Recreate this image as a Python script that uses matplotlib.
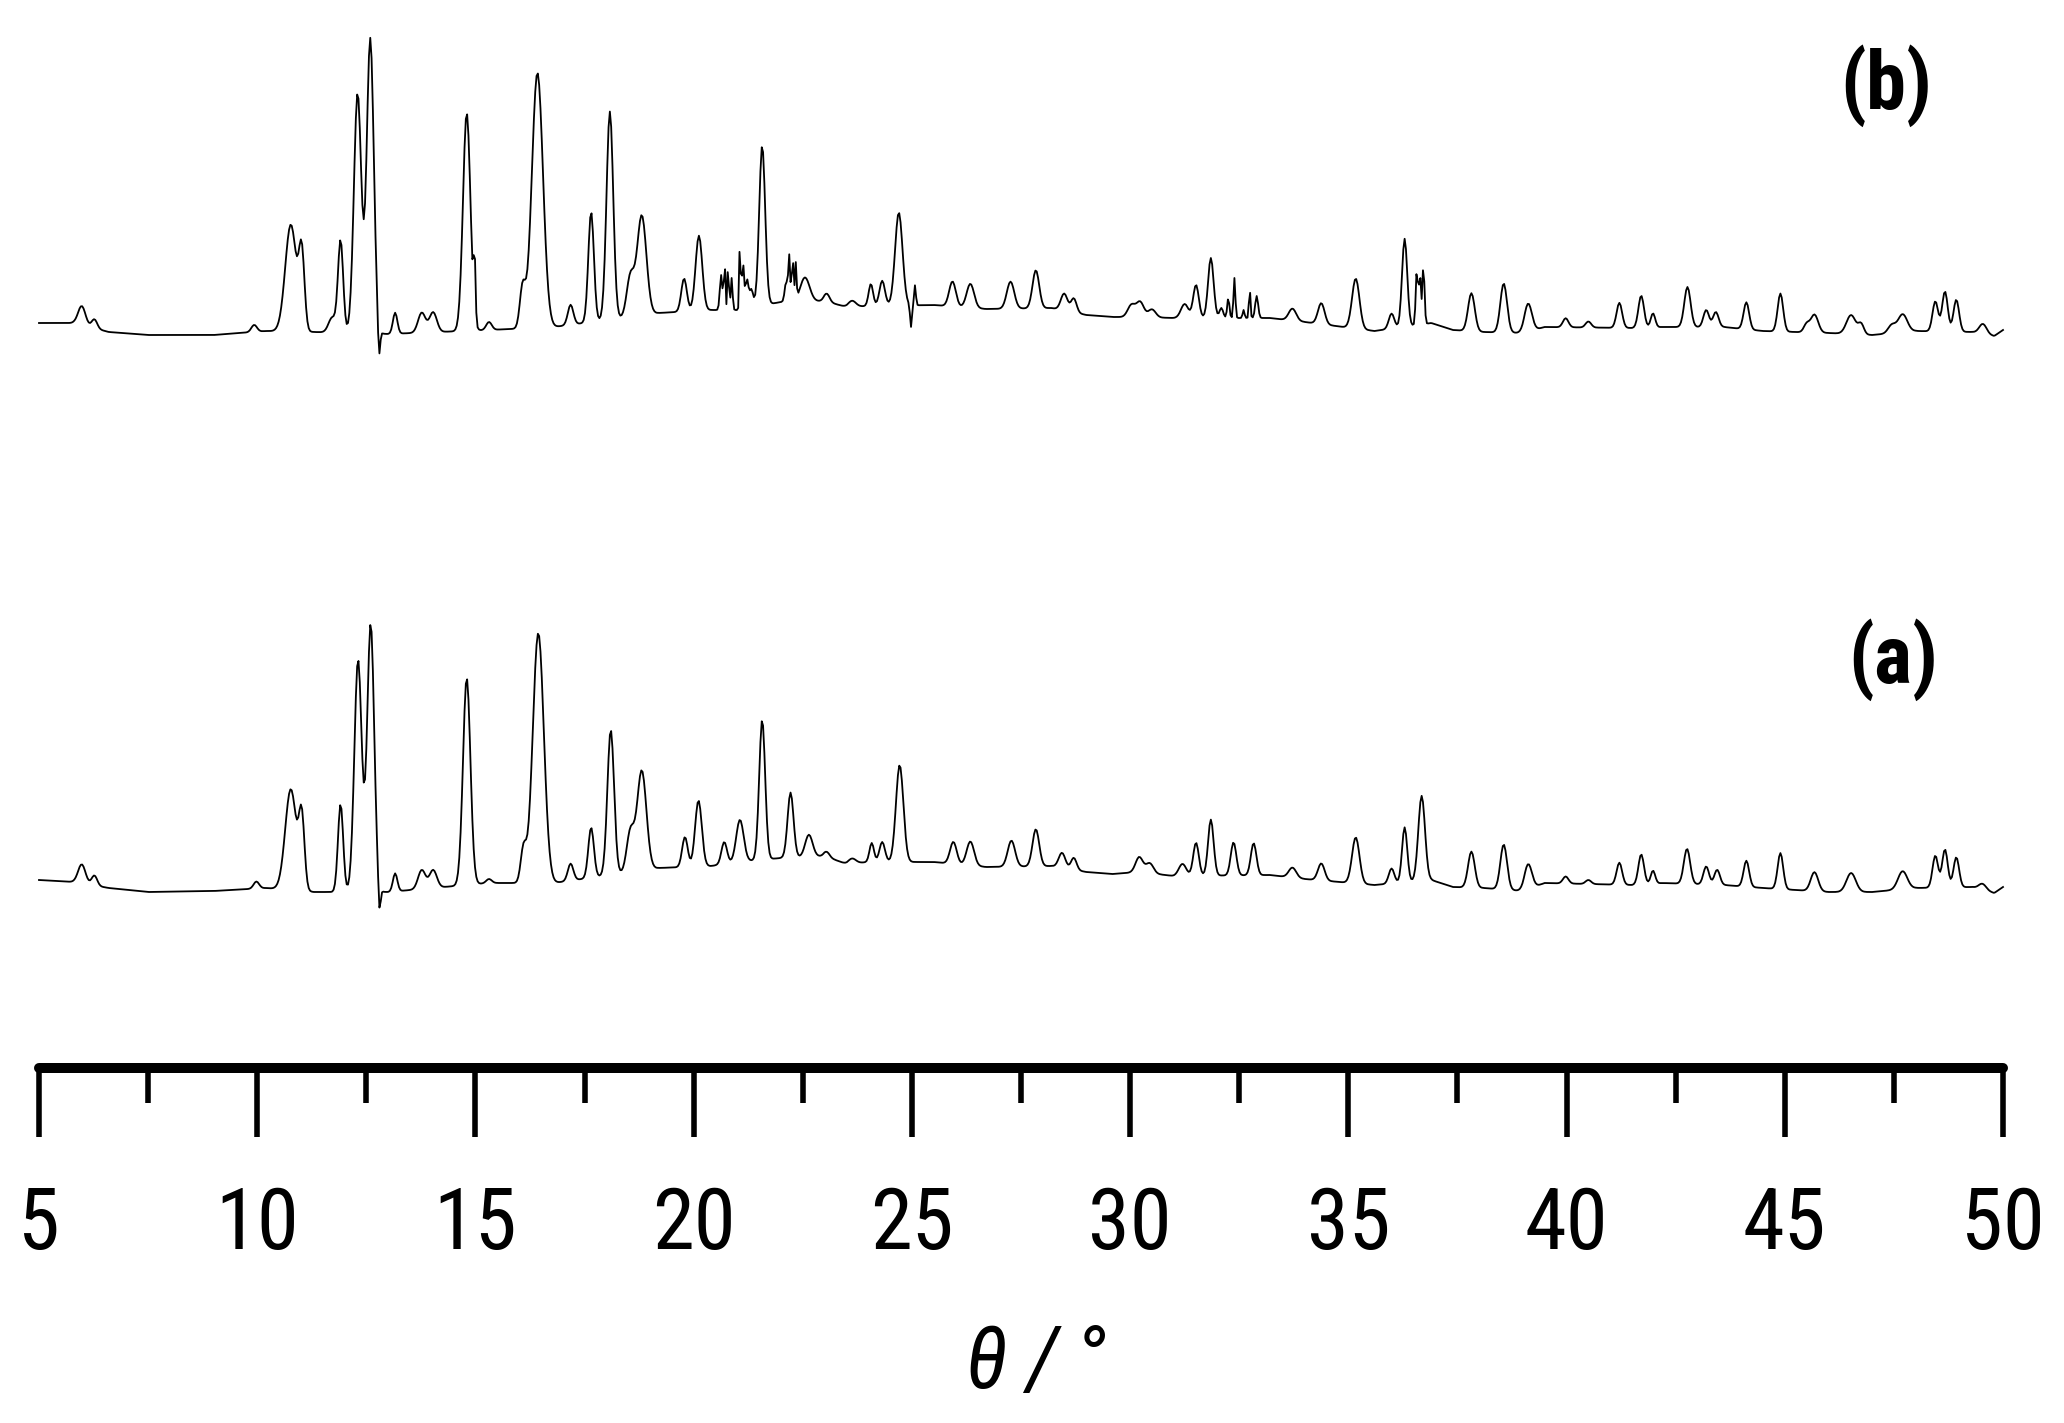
import numpy as np
import matplotlib
matplotlib.use("Agg")
import matplotlib.pyplot as plt
from matplotlib import font_manager
from matplotlib.ticker import MultipleLocator

# ---------------- data ----------------
theta_min, theta_max = 5.0, 50.0
major_ticks = [5, 10, 15, 20, 25, 30, 35, 40, 45, 50]
tick_labels = ["5", "10", "15", "20", "25", "30", "35", "40", "45", "50"]

# background (amorphous hump) levels, arbitrary intensity units
bg_theta = [5, 5.8, 6.6, 7.5, 9, 10.2, 11.3, 13, 15.3, 16.8,
            19.2, 20.4, 21, 22, 23, 23.5, 24, 25.5, 26.7, 28.2,
            29, 29.6, 30.2, 31, 33.2, 34, 35.6, 36.9, 37.4, 38.1,
            39, 39.5, 41.5, 42.2, 43.6, 44.5, 46, 47, 48, 49.3,
            49.8, 50]
bg_b = [22, 22, 13, 10, 10, 14, 13, 11, 15, 18,
        32, 35, 35, 43, 44, 38, 39, 40, 36, 37,
        30, 28, 28, 27, 27, 23, 14, 22, 15, 13,
        12, 18, 17, 18, 18, 14, 12, 10, 14, 13,
        9, 15]
bg_a = [18, 16, 10, 6, 7, 10, 6, 6, 15, 15,
        30, 32, 36, 40, 42, 34, 36, 36, 31, 32,
        26, 24, 26, 22, 23, 19, 13, 18, 11, 10,
        7, 15, 13, 15, 13, 10, 6, 6, 10, 11,
        5, 11]

# pattern (b): reflection positions, heights, widths (FWHM, degrees)
b_pos = [5.98, 6.27, 9.93, 10.77, 11.02,
         11.72, 11.91, 12.30, 12.59, 12.79,
         13.16, 13.77, 14.03, 14.80, 14.98,
         15.31, 16.08, 16.42, 17.18, 17.65,
         18.08, 18.55, 18.81, 19.78, 20.12,
         20.63, 20.71, 20.79, 20.87, 21.06,
         21.13, 21.22, 21.32, 21.57, 22.12,
         22.19, 22.27, 22.34, 22.55, 23.05,
         23.63, 24.06, 24.32, 24.70, 24.98,
         25.07, 25.93, 26.34, 27.26, 27.84,
         28.49, 28.71, 30.03, 30.23, 30.50,
         31.25, 31.51, 31.85, 32.09, 32.25,
         32.39, 32.60, 32.74, 32.90, 33.72,
         34.38, 35.17, 35.99, 36.29, 36.57,
         36.64, 36.72, 37.82, 38.56, 39.12,
         39.98, 40.50, 41.21, 41.71, 41.98,
         42.77, 43.20, 43.42, 44.12, 44.90,
         45.50, 45.68, 46.52, 46.75, 47.45,
         47.70, 48.45, 48.67, 48.93, 49.54]
b_height = [19, 9, 7, 107, 75,
            15, 92, 240, 295, -32,
            21, 20, 20, 218, 60,
            8, 40, 255, 20, 110,
            208, 40, 100, 33, 75,
            35, 48, 45, 32, 72,
            45, 28, 18, 160, 20,
            45, 42, 36, 24, 8,
            6, 22, 25, 93, -22,
            20, 25, 24, 27, 38,
            17, 14, 12, 15, 8,
            14, 33, 60, 10, 20,
            40, 8, 30, 22, 12,
            21, 50, 15, 88, 55,
            50, 58, 38, 49, 28,
            9, 6, 25, 32, 14,
            40, 17, 15, 27, 38,
            8, 18, 19, 10, 8,
            18, 30, 40, 32, 10]
b_fwhm = [.2, .15, .15, .3, .15,
          .2, .14, .2, .19, .06,
          .12, .2, .2, .2, .05,
          .15, .15, .3, .15, .15,
          .18, .2, .25, .15, .18,
          .07, .04, .04, .05, .035,
          .06, .08, .1, .16, .08,
          .05, .05, .04, .25, .15,
          .2, .12, .15, .2, .05,
          .05, .18, .2, .2, .18,
          .18, .15, .2, .2, .2,
          .2, .15, .15, .1, .06,
          .05, .05, .04, .08, .2,
          .18, .2, .15, .14, .06,
          .05, .06, .18, .18, .2,
          .15, .15, .15, .15, .12,
          .17, .15, .15, .15, .15,
          .15, .2, .25, .15, .2,
          .25, .15, .15, .15, .2]

# pattern (a)
a_pos = [5.98, 6.27, 9.98, 10.77, 11.02,
         11.91, 12.31, 12.60, 12.80, 13.16,
         13.77, 14.03, 14.80, 15.31, 16.10,
         16.44, 17.18, 17.65, 18.10, 18.55,
         18.81, 19.80, 20.11, 20.70, 21.06,
         21.57, 22.22, 22.64, 23.05, 23.63,
         24.08, 24.32, 24.72, 25.95, 26.34,
         27.28, 27.84, 28.44, 28.71, 30.21,
         30.45, 31.20, 31.51, 31.85, 32.37,
         32.83, 33.72, 34.38, 35.17, 35.99,
         36.29, 36.68, 37.82, 38.56, 39.12,
         39.98, 40.50, 41.21, 41.71, 41.98,
         42.76, 43.20, 43.45, 44.12, 44.90,
         45.68, 46.52, 47.70, 48.45, 48.67,
         48.93, 49.53]
a_height = [19, 10, 7, 101, 70,
            88, 232, 268, -28, 18,
            19, 18, 207, 4, 33,
            250, 17, 50, 145, 40,
            100, 30, 66, 22, 42,
            140, 65, 22, 5, 5,
            19, 20, 97, 22, 24,
            26, 37, 15, 12, 15,
            10, 12, 33, 56, 33,
            32, 10, 17, 46, 15,
            55, 85, 36, 45, 25,
            7, 4, 22, 30, 13,
            35, 18, 15, 26, 36,
            19, 19, 18, 32, 38,
            30, 6]
a_fwhm = [.2, .15, .15, .3, .15,
          .14, .2, .19, .06, .12,
          .2, .2, .2, .15, .15,
          .3, .15, .15, .18, .2,
          .25, .15, .18, .15, .2,
          .16, .16, .2, .15, .2,
          .12, .15, .2, .18, .2,
          .2, .18, .18, .15, .2,
          .2, .2, .15, .15, .15,
          .15, .2, .18, .2, .15,
          .14, .18, .18, .18, .2,
          .15, .15, .15, .15, .12,
          .17, .15, .15, .15, .15,
          .2, .25, .25, .15, .15,
          .15, .2]

# vertical stacking offsets of the two patterns
offset_a = 170
offset_b = 723

# ---------------- build the patterns ----------------
theta = np.arange(theta_min, theta_max + 1e-9, 0.03)


def pattern(bg, pos, hgt, fw):
    y = np.interp(theta, bg_theta, bg).astype(float)
    for c, h, w in zip(pos, hgt, fw):
        y += h * np.exp(-4 * np.log(2) * ((theta - c) / w) ** 2)
    return y


ya = pattern(bg_a, a_pos, a_height, a_fwhm)
yb = pattern(bg_b, b_pos, b_height, b_fwhm)

# ---------------- fonts: prefer a narrow sans (Arial Narrow look) ----------------
entries = font_manager.fontManager.ttflist
names = {f.name for f in entries}
font_family = None
font_stretch = "normal"
for cand in ["Liberation Sans Narrow", "Arial Narrow", "Roboto Condensed",
             "Open Sans Condensed", "Noto Sans Condensed", "DejaVu Sans Condensed",
             "Noto Sans Display Condensed"]:
    if cand in names:
        font_family = cand
        break
if font_family is None:
    for f in entries:
        if ("Narrow" in f.name or "Condensed" in f.name) and "Mono" not in f.name:
            font_family = f.name
            break
if font_family is None:
    for pref in ["Liberation Sans", "Roboto", "Noto Sans", "Open Sans", "DejaVu Sans"]:
        if any(f.name == pref and str(f.stretch) in ("condensed", "semi-condensed", "75", "87.5")
               for f in entries):
            font_family = pref
            font_stretch = "condensed"
            break
if font_family is None:
    font_family = "Liberation Sans"
fam = [font_family, "Liberation Sans", "DejaVu Sans"]

# ---------------- figure ----------------
W, H = 2064, 1423
fig = plt.figure(figsize=(W / 100, H / 100), dpi=100)
fig.patch.set_facecolor("white")

ax_left, ax_right = 39, 2003
spine_y = 1068
ax = fig.add_axes([ax_left / W, 1 - spine_y / H, (ax_right - ax_left) / W, spine_y / H])
ax.set_xlim(theta_min, theta_max)
ax.set_ylim(0, spine_y)

ax.plot(theta, offset_b + yb, color="black", lw=1.3, clip_on=False)
ax.plot(theta, offset_a + ya, color="black", lw=1.3, clip_on=False)

for s in ["top", "left", "right"]:
    ax.spines[s].set_visible(False)
ax.spines["bottom"].set_linewidth(7.2)
ax.spines["bottom"].set_capstyle("round")
ax.set_yticks([])
ax.set_xticks(major_ticks)
ax.set_xticklabels(tick_labels, family=fam, fontsize=61, stretch=font_stretch)
ax.xaxis.set_minor_locator(MultipleLocator(2.5))
ax.tick_params(axis="x", which="major", direction="out", length=50, width=4, pad=34, color="black")
ax.tick_params(axis="x", which="minor", direction="out", length=25, width=4, color="black")
ax.patch.set_alpha(0)

fig.text(1886 / W, 1 - 86 / H, "(b)", family=fam, fontsize=58, fontweight="bold",
         stretch=font_stretch, ha="center", va="center")
fig.text(1893 / W, 1 - 660 / H, "(a)", family=fam, fontsize=58, fontweight="bold",
         stretch=font_stretch, ha="center", va="center")
fig.text(1036 / W, 1 - 1388 / H, "θ /\u2009°", family=fam, fontsize=62, style="italic",
         stretch=font_stretch, ha="center", va="baseline")

fig.savefig("out.png", dpi=100, facecolor="white")
